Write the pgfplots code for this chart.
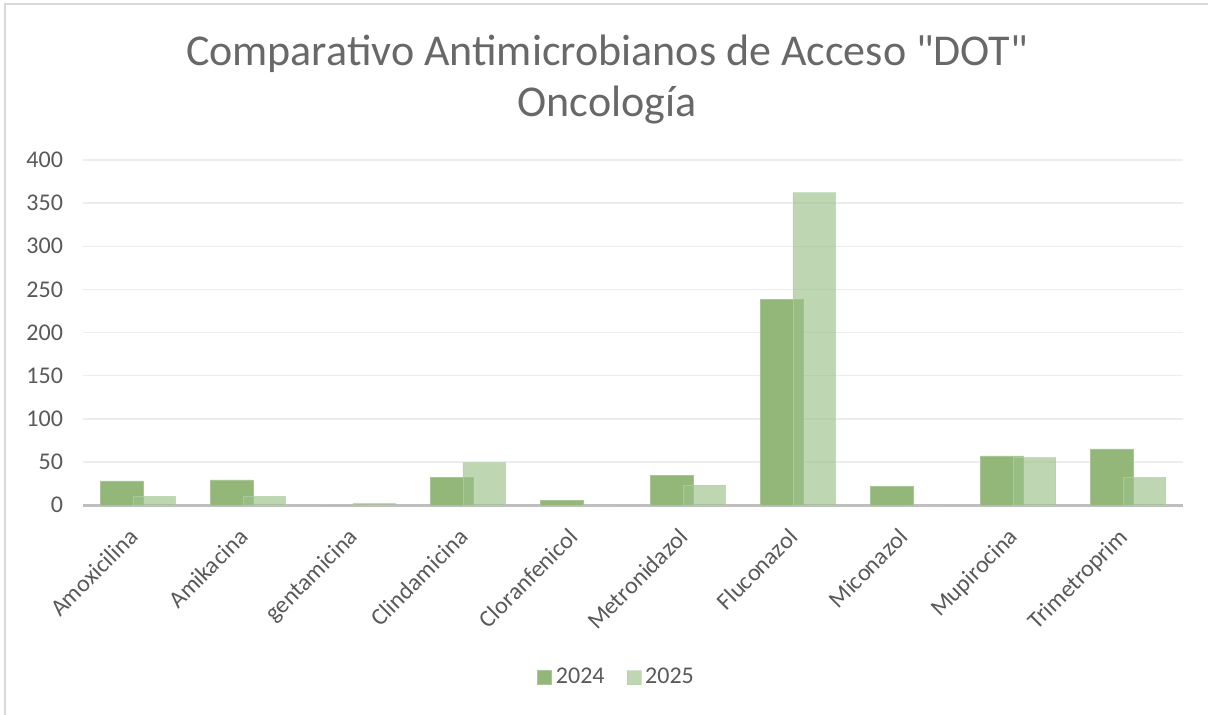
\documentclass[border=0pt]{standalone}
\usepackage{fontspec}
\setmainfont{Carlito}
\usepackage{pgfplots}
\pgfplotsset{compat=1.18}
\definecolor{txtgray}{HTML}{595959}
\definecolor{titlegray}{HTML}{686868}
\definecolor{gridgray}{HTML}{EDEDED}
\definecolor{axisgray}{HTML}{BFBFBF}
\definecolor{framegray}{HTML}{D9D9D9}
\definecolor{g24}{HTML}{93B779}
\definecolor{g25}{HTML}{9CC18A}

\begin{document}
\begin{tikzpicture}
% 1 px of the reference = 0.5pt
\useasboundingbox (0pt,0pt) rectangle (604pt,-357.5pt);
\draw[framegray, line width=1pt] (2.5pt,-357.5pt) -- (2.5pt,-2pt) -- (604pt,-2pt);
\node[anchor=base, font=\fontsize{22}{26}\selectfont, text=titlegray] at (303.5pt,-33pt)
  {Comparativo Antimicrobianos de Acceso \textquotedbl DOT\textquotedbl};
\node[anchor=base, font=\fontsize{22}{26}\selectfont, text=titlegray] at (303.5pt,-58.5pt)
  {Oncología};
\begin{axis}[
  at={(41.5pt,-252.5pt)}, anchor=south west,
  scale only axis, width=550pt, height=172.5pt,
  xmin=-0.5, xmax=9.5, ymin=0, ymax=400,
  ytick={0,50,...,400},
  xtick={0,...,9},
  xticklabels={Amoxicilina,Amikacina,gentamicina,Clindamicina,Cloranfenicol,Metronidazol,Fluconazol,Miconazol,Mupirocina,Trimetroprim},
  axis x line*=bottom, axis y line*=left,
  y axis line style={draw=none},
  x axis line style={draw=axisgray, line width=1.5pt, -},
  major tick length=0pt,
  ymajorgrids, grid style={gridgray, line width=0.75pt},
  tick label style={font=\fontsize{12}{14}\selectfont, text=txtgray},
  yticklabel style={xshift=-6.5pt},
  xticklabel style={rotate=45, anchor=north east, xshift=-8pt, yshift=-0.5pt},
  /pgf/number format/assume math mode=true,
  legend style={at={(0.486,-0.50)}, anchor=center, draw=none, fill=none,
    legend columns=2, font=\fontsize{12}{14}\selectfont, text=txtgray,
    /tikz/every even column/.append style={column sep=9pt}},
  legend image code/.code={\fill[#1] (0pt,-3.5pt) rectangle (7pt,3.5pt);},
]
\addplot[ybar, bar width=0.39, bar shift=-0.148, fill=g24, draw=g24!80!white, line width=0.3pt]
  coordinates {(0,28) (1,29) (2,0) (3,32) (4,5) (5,34) (6,238) (7,22) (8,57) (9,65)};
\addlegendentry{2024}
\addplot[ybar, bar width=0.39, bar shift=0.148, fill=g25, fill opacity=0.66, draw=g25!75!white, draw opacity=0.6, line width=0.3pt]
  coordinates {(0,10) (1,10) (2,2) (3,49) (4,0) (5,23) (6,362) (7,0) (8,55) (9,32)};
\addlegendentry{2025}
\end{axis}
\end{tikzpicture}
\end{document}
